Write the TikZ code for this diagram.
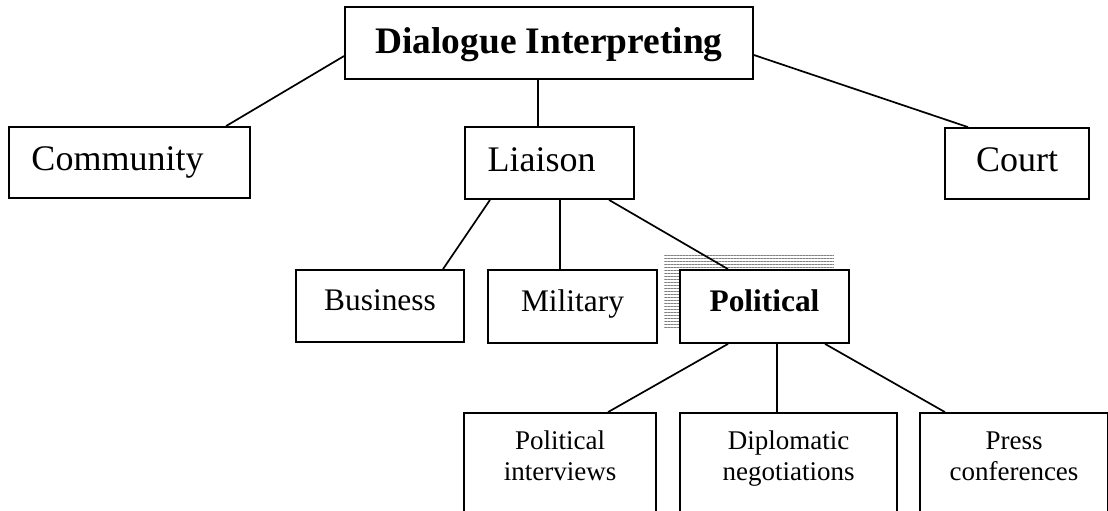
\documentclass[tikz,border=0pt]{standalone}
\usepackage{fontspec}
\setmainfont{Liberation Serif}
\usetikzlibrary{calc,backgrounds,patterns.meta}

\tikzset{
    box/.style={draw, line width=0.9pt, fill=white, inner sep=0pt},
    link/.style={line width=0.85pt},
    top/.style={font=\fontsize{18.7}{21}\selectfont\bfseries, text height=13pt, text depth=3pt},
    big/.style={font=\fontsize{18}{21}\selectfont, text height=12.5pt, text depth=4.3pt},
    mid/.style={font=\fontsize{15.7}{18}\selectfont, text height=10pt, text depth=5.3pt},
    small/.style={font=\fontsize{13.5}{15.5}\selectfont, align=center,
        text height=25.5pt, text depth=7.3pt},
}

\begin{document}
\begin{tikzpicture}[x=0.5pt, y=-0.5pt]
    \useasboundingbox (0,0) rectangle (1108,510);

    \node[box, top, minimum width=204pt, minimum height=36pt] (dlg) at (549,43) {Dialogue Interpreting};

    \node[box, big, minimum width=120.5pt, minimum height=35.5pt] (comm) at (129.5,162.5) {\hspace*{-12pt}Community};
    \node[box, big, minimum width=84.5pt, minimum height=36pt] (liai) at (549.5,163) {\hspace*{-8pt}Liaison};
    \node[box, big, minimum width=72pt, minimum height=35.5pt] (court) at (1017,163.5) {Court};

    \node[box, mid, minimum width=84pt, minimum height=36pt] (bus) at (380,306) {Business};
    \node[box, mid, minimum width=84.5pt, minimum height=36.5pt] (mil) at (572.5,306.5) {Military};
    \node[box, mid, minimum width=84.5pt, minimum height=36.5pt] (pol) at (764.5,306.5) {\bfseries Political};

    \node[box, small, minimum width=96pt, minimum height=49.5pt] (polint) at (560,462.5) {Political\\interviews};
    \node[box, small, minimum width=108.5pt, minimum height=49.5pt] (dipl) at (788.5,462.5) {Diplomatic\\negotiations};
    \node[box, small, minimum width=94pt, minimum height=49.5pt] (press) at (1014,462.5) {Press\\conferences};

    % hatched shadow behind Political
    \begin{scope}[on background layer]
        \fill[pattern={Lines[angle=0, distance=1.5pt, line width=0.5pt]}, pattern color=gray]
            ([shift={(-15,-15)}]pol.north west) rectangle ([shift={(-16,-16)}]pol.south east);
    \end{scope}

    \draw[link] ($(dlg.west)+(0,13)$) -- ($(comm.north)+(96.5,0)$);
    \draw[link] ($(liai.north)+(-11.5,0)$) coordinate (a) -- (a |- dlg.south);
    \draw[link] ($(dlg.east)+(0,12)$) -- ($(court.north)+(-49,0)$);

    \draw[link] ($(liai.south)+(-59.5,0)$) -- ($(bus.north)+(63,0)$);
    \draw[link] ($(mil.north)+(-12.5,0)$) coordinate (b) -- (b |- liai.south);
    \draw[link] ($(liai.south)+(59.5,0)$) -- ($(pol.north)+(-36.5,0)$);

    \draw[link] ($(pol.south)+(-36.5,0)$) -- ($(polint.north)+(48,0)$);
    \draw[link] ($(dipl.north)+(-11.5,0)$) coordinate (c) -- (c |- pol.south);
    \draw[link] ($(pol.south)+(60.5,0)$) -- ($(press.north)+(-69,0)$);
\end{tikzpicture}
\end{document}
